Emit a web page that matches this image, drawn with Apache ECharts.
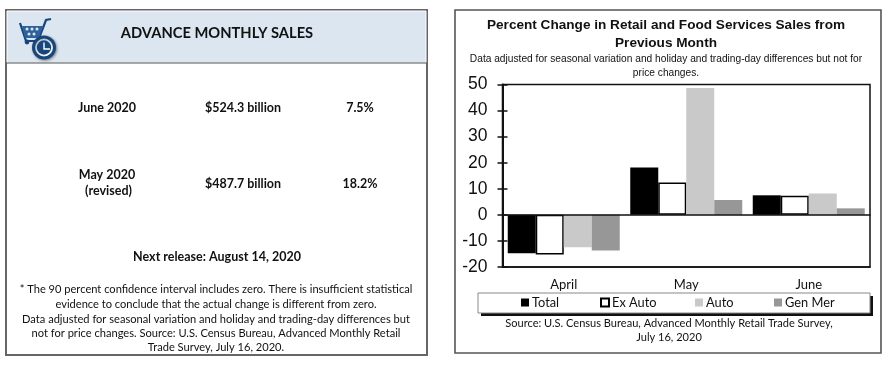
<!DOCTYPE html>
<html><head><meta charset="utf-8">
<style>html,body{margin:0;padding:0;background:#fff}#c{width:890px;height:366px}</style>
<script src="https://cdn.jsdelivr.net/npm/echarts@6/dist/echarts.min.js"></script>
</head><body><div id="c"></div>
<script>
const months = ['April','May','June'];
const total = [-14.7, 18.2, 7.5];
const exAuto = [-15.2, 12.4, 7.3];
const auto = [-12.4, 48.7, 8.2];
const genMer = [-13.7, 5.7, 2.5];
const yTicks = {min:-20, max:50, interval:10};
const leftTitle = 'ADVANCE MONTHLY SALES';
const rows = [['June 2020','$524.3 billion','7.5%'],['May 2020\n (revised)','$487.7 billion','18.2%']];
const nextRelease = 'Next release: August 14, 2020';
const footnote = ['* The 90 percent confidence interval includes zero. There is insufficient statistical',
 'evidence to conclude that the actual change is different from zero.',
 'Data adjusted for seasonal variation and holiday and trading-day differences but',
 'not for price changes. Source: U.S. Census Bureau, Advanced Monthly Retail',
 'Trade Survey, July 16, 2020.'];
const chartTitle = 'Percent Change in Retail and Food Services Sales from\nPrevious Month';
const chartSub = ['Data adjusted for seasonal variation and holiday and trading-day differences but not for','price changes.'];
const chartSource = ['Source: U.S. Census Bureau, Advanced Monthly Retail Trade Survey,','July 16, 2020'];
const legendNames = ['Total','Ex Auto','Auto','Gen Mer'];

const ARIAL='"Liberation Sans",Arial,sans-serif', LATO='Lato,sans-serif';
const t=(x,y,text,font,size,weight,fill)=>({type:'text',x,y,z:5,style:{text,fill:fill||'#111',font:(weight||'normal')+' '+size+'px '+font,align:'center',verticalAlign:'middle',lineHeight:16}});
const navy='#17467f';
const dot=(cx,cy)=>({type:'circle',z:3,shape:{cx,cy,r:1.5},style:{fill:'#dce6f1'}});
const g=[
 {type:'rect',shape:{x:6,y:10,width:421,height:345},style:{fill:'#fff',stroke:'#666',lineWidth:2}},
 {type:'rect',shape:{x:7,y:11,width:419,height:52},style:{fill:'#dce6f1',stroke:'#fff',lineWidth:1}},
 {type:'line',shape:{x1:6,y1:63,x2:427,y2:63},style:{stroke:'#555',lineWidth:1.2}},
 {type:'polyline',z:2,shape:{points:[[20,23],[26,41],[38,41],[46,20],[51,19]]},style:{stroke:navy,lineWidth:2.2,fill:null}},
 {type:'polygon',z:2,shape:{points:[[22,26],[43,26],[39,38],[25,38]]},style:{fill:'#2f629c'}},
 dot(27,29),dot(32,29),dot(37,29),dot(29,34),dot(34,34),
 {type:'circle',z:2,shape:{cx:27,cy:42,r:2.4},style:{fill:navy}},
 {type:'circle',z:3,shape:{cx:44,cy:47.5,r:10.5},style:{fill:'#fff',stroke:navy,lineWidth:3,shadowBlur:3,shadowColor:'rgba(0,0,0,.4)',shadowOffsetX:1,shadowOffsetY:1}},
 {type:'circle',z:3,shape:{cx:44,cy:47.5,r:7.2},style:{fill:navy}},
 {type:'polyline',z:4,shape:{points:[[44,42.5],[44,49],[50,49]]},style:{stroke:'#fff',lineWidth:1.4,fill:null}},
 t(217,33,leftTitle,LATO,14.7,'bold'),
 t(107,108,rows[0][0],LATO,12.5,'bold'),t(243,108,rows[0][1],LATO,12.5,'bold'),t(360,108,rows[0][2],LATO,12.5,'bold'),
 t(107,183,rows[1][0],LATO,12.5,'bold'),t(243,184,rows[1][1],LATO,12.5,'bold'),t(360,184,rows[1][2],LATO,12.5,'bold'),
 t(217,257,nextRelease,LATO,12.5,'bold'),
 ...footnote.map((s,i)=>t(216,[289,304,319,333,347][i],s,LATO,11.1)),
 {type:'rect',shape:{x:455,y:10,width:426,height:343},style:{fill:'none',stroke:'#555',lineWidth:1.6}},
 t(666,25,chartTitle.split('\n')[0],ARIAL,13.6,'bold'),t(666,43,chartTitle.split('\n')[1],ARIAL,13.6,'bold'),
 t(666,59,chartSub[0],ARIAL,10.2),t(666,73,chartSub[1],ARIAL,10.2),
 {type:'rect',shape:{x:481,y:296,width:392,height:20},z:1,style:{fill:'#111'}},
 {type:'rect',shape:{x:478,y:293,width:392,height:20},z:2,style:{fill:'#fff',stroke:'#888',lineWidth:1}},
 t(669,323,chartSource[0],LATO,11.05),t(669,337,chartSource[1],LATO,11.05)
];
const s=(name,data,style)=>({name,type:'bar',data,barWidth:28,barGap:0,xAxisIndex:0,yAxisIndex:0,itemStyle:style});
const legendX=[521,600,695,774];
const chart=echarts.init(document.getElementById('c'),null,{renderer:'canvas'});
chart.setOption({
 animation:false,backgroundColor:'#fff',
 grid:{left:502.5,right:20,top:84.5,bottom:99,show:true,borderColor:'#111',borderWidth:1.5,backgroundColor:'transparent'},
 legend:legendNames.map((n,i)=>({top:296,left:legendX[i],z:10,itemWidth:8,itemHeight:8,itemGap:0,padding:0,
  textStyle:{fontFamily:LATO,fontSize:12.8,color:'#111',padding:[0,0,0,-2]},
  data:[{name:n,icon:'rect'}],selectedMode:false})),
 xAxis:[
  {type:'category',data:months,position:'bottom',axisLine:{onZero:false,lineStyle:{color:'#111',width:1.5}},axisTick:{show:false},axisLabel:{fontFamily:LATO,fontSize:13,color:'#111',margin:11}},
  {type:'category',data:months,position:'bottom',axisLine:{onZero:true,lineStyle:{color:'#111',width:1.5}},axisTick:{show:false},axisLabel:{show:false},z:6}
 ],
 yAxis:[
  {type:'value',...yTicks,splitLine:{show:false},axisLine:{show:true,lineStyle:{color:'#111',width:2}},axisTick:{show:true,length:5,lineStyle:{color:'#111',width:1.5}},axisLabel:{fontFamily:ARIAL,fontSize:17.5,color:'#111',margin:15}},
  {type:'value',position:'left',offset:0,...yTicks,splitLine:{show:false},axisLine:{show:false},axisTick:{show:true,inside:true,length:5,lineStyle:{color:'#111',width:1.5}},axisLabel:{show:false}}
 ],
 series:[
  s('Total',total,{color:'#000'}),
  s('Ex Auto',exAuto,{color:'#fff',borderColor:'#000',borderWidth:1.5}),
  s('Auto',auto,{color:'#c9c9c9'}),
  s('Gen Mer',genMer,{color:'#979797'}),
  {type:'bar',xAxisIndex:1,yAxisIndex:1,data:[],name:'_'}
 ],
 graphic:{elements:g}
});
</script></body></html>
